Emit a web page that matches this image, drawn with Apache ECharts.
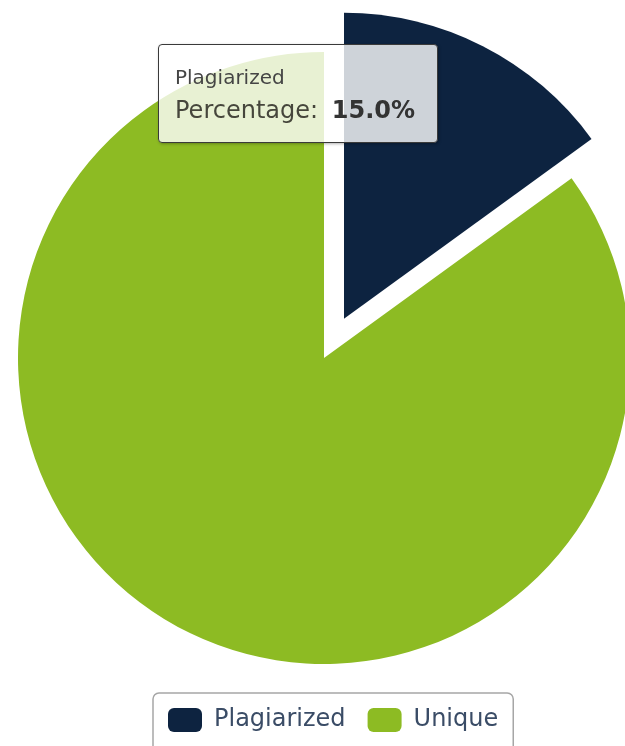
<!DOCTYPE html>
<html>
<head>
<meta charset="utf-8">
<style>
  html, body { margin: 0; padding: 0; background: #fff; }
  #main { width: 625px; height: 746px; }
</style>
<script src="https://cdn.jsdelivr.net/npm/echarts@6/dist/echarts.min.js"></script>
</head>
<body>
<div id="main"></div>
<script>
// data
var categories = ['Plagiarized', 'Unique'];
var percentages = [15.0, 85.0];
var selectedName = 'Plagiarized';

var myChart = echarts.init(document.getElementById('main'));

var pieData = categories.map(function (name, i) {
    return { name: name, value: percentages[i], selected: name === selectedName };
});

myChart.setOption({
    animation: false,
    color: ['#0d2340', '#8dbb23'],
    tooltip: {
        trigger: 'item',
        triggerOn: 'none',
        alwaysShowContent: true,
        transitionDuration: 0,
        position: [158, 44],
        backgroundColor: 'rgba(255,255,255,0.8)',
        borderColor: '#3a3a3a',
        borderWidth: 1.5,
        padding: [20, 17, 18, 16],
        extraCssText: 'border-radius:4px;box-shadow:1px 1px 3px rgba(0,0,0,0.3);',
        formatter: function (p) {
            return '<div style="font-family:\'DejaVu Sans\';width:245px;">' +
                '<div style="font-size:20px;line-height:24px;color:#454545;">' + p.name + '</div>' +
                '<div style="font-size:24px;line-height:28px;margin-top:7px;color:#46463c;">Percentage:&nbsp;' +
                '<b style="color:#333;margin-left:6px;">' + p.value.toFixed(1) + '%</b></div></div>';
        }
    },
    legend: {
        data: categories,
        left: 153,
        top: 693,
        padding: [15, 15, 20, 15],
        borderColor: '#a6a6a6',
        borderWidth: 1.5,
        borderRadius: 6,
        icon: 'roundRect',
        itemWidth: 34,
        itemHeight: 24,
        itemGap: 22,
        selectedMode: false,
        textStyle: {
            fontFamily: 'DejaVu Sans',
            fontSize: 24,
            color: '#3a4c66',
            padding: [0, 0, 0, 7]
        }
    },
    series: [{
        type: 'pie',
        center: [324, 358],
        radius: [0, 306],
        startAngle: 90,
        selectedMode: 'single',
        selectedOffset: 44,
        label: { show: false },
        labelLine: { show: false },
        emphasis: { disabled: true },
        data: pieData
    }]
});

myChart.dispatchAction({ type: 'showTip', seriesIndex: 0, dataIndex: 0 });
</script>
</body>
</html>
